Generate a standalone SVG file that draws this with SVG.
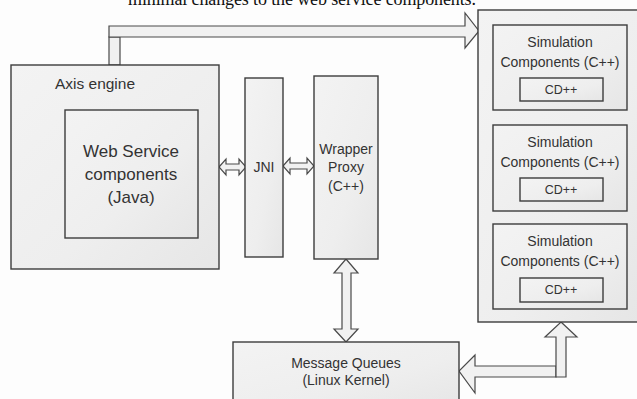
<svg xmlns="http://www.w3.org/2000/svg" width="637" height="399" viewBox="0 0 637 399">
<defs>
<linearGradient id="g" x1="0" y1="0" x2="1" y2="1">
<stop offset="0" stop-color="#f3f3f3"/>
<stop offset="0.6" stop-color="#eeeeee"/>
<stop offset="1" stop-color="#e6e6e6"/>
</linearGradient>
<style>
.box{fill:url(#g);stroke:#3c3c3c;stroke-width:1.4}
.arr{fill:#f1f1f1;stroke:#4a4a4a;stroke-width:1.2;stroke-linejoin:miter}
.t{font-family:"Liberation Sans",Arial,sans-serif;fill:#333;text-anchor:middle}
.s{font-size:14px}
</style>
</defs>
<rect width="637" height="399" fill="#fdfdfd"/>
<text x="128" y="5" font-family="'Liberation Serif','Times New Roman',serif" font-size="18" fill="#111" textLength="348">minimal changes to the web service components.</text>

<g id="connectors">
<rect class="arr" x="109" y="37" width="11" height="28"/>
<polygon class="arr" points="109,37 109,26 465,26 465,13 479,31 465,48 465,37"/>
<polygon class="arr" points="219,167 226,159 226,164 239,164 239,159 246,167 239,175 239,170 226,170 226,175"/>
<polygon class="arr" points="283,166 290,158 290,163 307,163 307,158 314,166 307,174 307,169 290,169 290,174"/>
<polygon class="arr" points="346,259 358,273 351,273 351,329 358,329 346,342 334,329 342,329 342,273 334,273"/>
<polygon class="arr" points="556,366 475,366 475,355 459,371 475,393 475,377 556,377"/>
<polygon class="arr" points="561,322 577,337 566,337 566,377 556,377 556,337 545,337"/>
</g>

<g id="axis">
<rect class="box" x="11" y="65" width="208" height="204"/>
<text class="t" x="95" y="89" font-size="15.5">Axis engine</text>
</g>
<g id="webservice">
<rect class="box" x="65" y="110" width="133" height="128"/>
<text class="t" x="131" y="157" font-size="17">Web Service</text>
<text class="t" x="131" y="180" font-size="17">components</text>
<text class="t" x="131" y="203" font-size="17">(Java)</text>
</g>
<g id="jni">
<rect class="box" x="245" y="78" width="38" height="179"/>
<text class="t s" x="264" y="172">JNI</text>
</g>
<g id="wrapper">
<rect class="box" x="314" y="76" width="64" height="183"/>
<text class="t s" x="346" y="154">Wrapper</text>
<text class="t s" x="346" y="172">Proxy</text>
<text class="t s" x="346" y="191">(C++)</text>
</g>
<g id="simcontainer">
<rect class="box" x="478" y="10" width="160" height="312"/>
</g>
<g id="sim1">
<rect class="box" x="493" y="25" width="134" height="85"/>
<text class="t s" x="560" y="47">Simulation</text>
<text class="t s" x="560" y="67">Components (C++)</text>
<rect class="box" x="520" y="78" width="83" height="23"/>
<text class="t" x="561" y="94" font-size="12.5">CD++</text>
</g>
<g id="sim2">
<rect class="box" x="493" y="125" width="134" height="86"/>
<text class="t s" x="560" y="147">Simulation</text>
<text class="t s" x="560" y="167">Components (C++)</text>
<rect class="box" x="520" y="178" width="83" height="23"/>
<text class="t" x="561" y="194" font-size="12.5">CD++</text>
</g>
<g id="sim3">
<rect class="box" x="493" y="224" width="134" height="85"/>
<text class="t s" x="560" y="246">Simulation</text>
<text class="t s" x="560" y="266">Components (C++)</text>
<rect class="box" x="520" y="278" width="83" height="24"/>
<text class="t" x="561" y="294" font-size="12.5">CD++</text>
</g>
<g id="mq">
<rect class="box" x="233" y="342" width="226" height="65"/>
<text class="t s" x="346" y="368">Message Queues</text>
<text class="t s" x="346" y="385">(Linux Kernel)</text>
</g>
</svg>
